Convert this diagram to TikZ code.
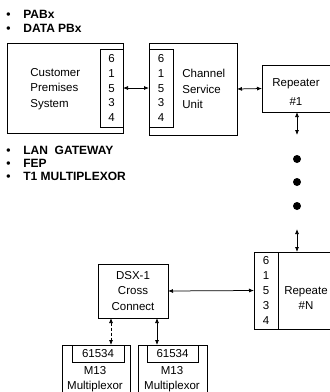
\documentclass[tikz,border=0pt]{standalone}
\usepackage{fontspec}
\setmainfont{Liberation Sans}
\usetikzlibrary{arrows.meta}
\begin{document}
\begin{tikzpicture}[x=1pt,y=-1pt, line width=0.75pt,
 box/.style={draw, inner sep=0pt, outer sep=0pt, anchor=north west},
 open/.style={inner sep=0pt, outer sep=0pt, anchor=north west},
 lbl/.style={font=\fontsize{11.5}{15.2}\selectfont, align=left, inner sep=0pt},
 nums/.style={font=\fontsize{11.5}{14.8}\selectfont, align=center, inner sep=0pt},
 bul/.style={font=\bfseries\fontsize{12}{14}\selectfont, anchor=west, inner sep=0pt},
 conn/.style={{Latex[length=5pt,width=4pt]}-{Latex[length=5pt,width=4pt]}},
 dot/.style={circle, fill, minimum size=8pt, inner sep=0pt}]
\useasboundingbox (0,0) rectangle (330,392);

% bullets
\node[bul] (b1) at (6,14) {\makebox[17pt][l]{\textbullet}PABx};
\node[bul] (b2) at (6,28.5) {\makebox[17pt][l]{\textbullet}DATA PBx};
\node[bul] (b3) at (6,150) {\makebox[17pt][l]{\textbullet}LAN\ \ GATEWAY};
\node[bul] (b4) at (6,163) {\makebox[17pt][l]{\textbullet}FEP};
\node[bul] (b5) at (6,176.5) {\makebox[17pt][l]{\textbullet}T1 MULTIPLEXOR};

% Customer premises system
\node[box, minimum width=116pt, minimum height=90pt] (cps) at (7,43) {};
\node[box, minimum width=23pt, minimum height=78pt] (cpsnum) at (100,49) {};
\node[nums] (cpsd) at (cpsnum.center) {6\\1\\5\\3\\4};
\node[lbl, anchor=west] (cpst) at (30,89) {Customer\\Premises\\System};

% Channel service unit
\node[box, minimum width=88pt, minimum height=92pt] (csu) at (149,43) {};
\node[box, minimum width=24pt, minimum height=78pt] (csunum) at (149,49) {};
\node[nums] (csud) at (csunum.center) {6\\1\\5\\3\\4};
\node[lbl, anchor=west] (csut) at (182,89) {Channel\\Service\\Unit};

\draw[conn] (cpsnum.east) -- (csunum.west);

% Repeater #1
\node[open, minimum width=68pt, minimum height=47pt] (rep1) at (262,65) {};
\draw (rep1.north east) -- (rep1.north west) -- (rep1.south west) -- (rep1.south east);
\node[lbl, align=center, font=\fontsize{11.5}{18.5}\selectfont] (rep1t) at (296,92) {Repeater\\\#1};
\draw[conn] (csu.east) -- (rep1.west);
\draw[conn] ([xshift=1pt]rep1.south) -- ++(0,23);

% dots
\node[dot] (d1) at (297,159) {};
\node[dot] (d2) at (297,182) {};
\node[dot] (d3) at (297,206) {};

% Repeater #N
\node[open, minimum width=76pt, minimum height=77pt] (repn) at (254,252) {};
\draw (repn.north east) -- (repn.north west) -- (repn.south west) -- (repn.south east);
\node[box, minimum width=24pt, minimum height=77pt] (repnnum) at (254,252) {};
\node[nums] (repnd) at (repnnum.center) {6\\1\\5\\3\\4};
\node[lbl, align=center] (repnt) at (306,298) {Repeate\\\#N};
\draw[conn] (d3.center |- repn.north) -- ++(0,-23);

% DSX-1
\node[box, lbl, align=center, minimum width=70pt, minimum height=54pt, font=\fontsize{11.5}{15.5}\selectfont] (dsx) at (98,264) {DSX-1\\Cross\\Connect};
\draw[conn] (dsx.east) -- (repnnum.west);

% M13 multiplexors
\node[open, minimum width=68pt, minimum height=47pt] (m1) at (62,345) {};
\draw (m1.south west) -- (m1.north west) -- (m1.north east) -- (m1.south east);
\node[box, nums, minimum width=52pt, minimum height=17pt] (m1in) at (72,345) {61534};
\node[lbl, align=center] (m1t) at (95,379) {M13\\Multiplexor};

\node[open, minimum width=69pt, minimum height=47pt] (m2) at (138,345) {};
\draw (m2.south west) -- (m2.north west) -- (m2.north east) -- (m2.south east);
\node[box, nums, minimum width=51pt, minimum height=17pt] (m2in) at (147,345) {61534};
\node[lbl, align=center] (m2t) at (172,379) {M13\\Multiplexor};

\draw[conn, densely dashed] ([xshift=13pt]dsx.south west) -- ([xshift=13pt]dsx.south west |- m1in.north);
\draw[conn] ([xshift=-11pt]dsx.south east) -- ([xshift=-11pt]dsx.south east |- m2in.north);
\end{tikzpicture}
\end{document}
